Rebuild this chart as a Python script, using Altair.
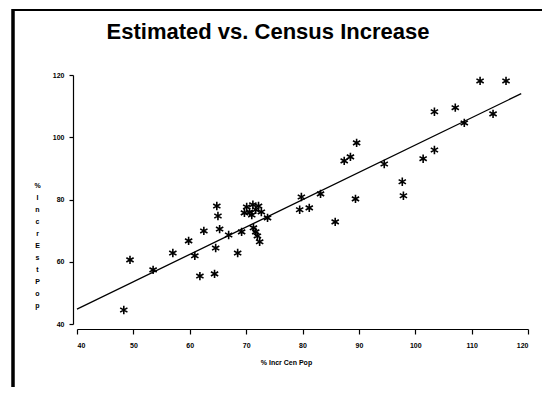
import altair as alt
import pandas as pd

# % increase in census population (x) vs. estimated population (y)
census_incr = [48.3, 49.4, 53.5, 57.0, 59.8, 60.9, 61.8, 62.5, 64.4, 64.6,
               64.8, 65.0, 65.3, 66.9, 68.5, 69.2, 69.7, 70.1, 70.6, 71.2,
               71.7, 72.2, 72.7, 71.0, 71.3, 71.7, 72.0, 72.4, 73.8, 79.8,
               79.5, 81.2, 83.2, 85.8, 87.4, 88.5, 89.6, 89.4, 94.5, 97.7,
               97.9, 101.4, 103.4, 103.4, 107.1, 108.7, 111.5, 113.8, 116.1]
est_incr = [44.5, 60.6, 57.4, 62.8, 66.7, 61.9, 55.4, 69.9, 56.1, 64.4,
            77.9, 74.7, 70.5, 68.6, 62.8, 69.6, 75.7, 77.6, 76.0, 78.3,
            76.7, 77.9, 76.0, 75.0, 70.9, 69.6, 68.3, 66.4, 74.1, 80.8,
            76.7, 77.3, 81.8, 72.8, 92.4, 93.7, 98.2, 80.2, 91.4, 85.7,
            81.2, 93.1, 108.2, 95.9, 109.5, 104.6, 118.1, 107.5, 118.1]

# fitted line end points
fit_x = [40.0, 118.8]
fit_y = [44.8, 114.0]

ticks = [40, 50, 60, 70, 80, 90, 100, 110, 120]
title_text = ["Estimated vs. Census Increase"]

pts = pd.DataFrame({"x": census_incr, "y": est_incr})
fit = pd.DataFrame({"x": fit_x, "y": fit_y})
ttl = pd.DataFrame({"t": title_text})

xs = alt.Scale(domain=[40, 120], nice=False, zero=False)
ys = alt.Scale(domain=[40, 120], nice=False, zero=False)

ytitle = ["%", "", "I", "n", "c", "r", "E", "s", "t", "", "P", "o", "p"]

star = "M0,-1L0,1M-0.87,-0.5L0.87,0.5M-0.87,0.5L0.87,-0.5"

points = alt.Chart(pts).mark_point(
    shape=star, size=70, stroke="black", strokeWidth=1.6, filled=False, opacity=1
).encode(
    x=alt.X("x:Q", scale=xs, axis=alt.Axis(
        values=ticks, title="% Incr Cen Pop", offset=5, tickSize=5,
        labelPadding=7, titlePadding=10, titleX=209)),
    y=alt.Y("y:Q", scale=ys, axis=alt.Axis(
        values=ticks, title=ytitle, titleAngle=0, offset=4, tickSize=4,
        labelPadding=5,
        titleBaseline="middle", titleAlign="center", titleLineHeight=12,
        titleX=-36, titleY=110)),
)

line = alt.Chart(fit).mark_line(color="black", strokeWidth=1.3).encode(
    x=alt.X("x:Q", scale=xs), y=alt.Y("y:Q", scale=ys)
)

frame_left = alt.Chart(fit).mark_rule(color="black", strokeWidth=3).encode(
    x=alt.value(-64), y=alt.value(-66), y2=alt.value(330)
)
frame_top = alt.Chart(fit).mark_rule(color="black", strokeWidth=2).encode(
    x=alt.value(-65), x2=alt.value(480), y=alt.value(-65)
)

title = alt.Chart(ttl).mark_text(
    font="Liberation Sans", fontSize=22, fontWeight="bold",
    color="black", align="center", baseline="alphabetic"
).encode(text="t:N", x=alt.value(191), y=alt.value(-36))

chart = alt.layer(frame_left, frame_top, line, points, title).properties(
    width=451, height=249,
    autosize=alt.AutoSizeParams(type="none"),
    padding={"left": 69, "top": 67, "right": 14, "bottom": 63},
).configure_view(stroke=None).configure_axis(
    grid=False, domainColor="black", tickColor="black", labelColor="black",
    titleColor="black", labelFont="Liberation Sans", labelFontWeight="bold",
    labelFontSize=7, titleFont="Liberation Sans", titleFontWeight="bold",
    titleFontSize=7, domainWidth=1.2, tickWidth=1.2,
)

chart.save("out.html", embed_options={"renderer": "svg", "actions": False})
